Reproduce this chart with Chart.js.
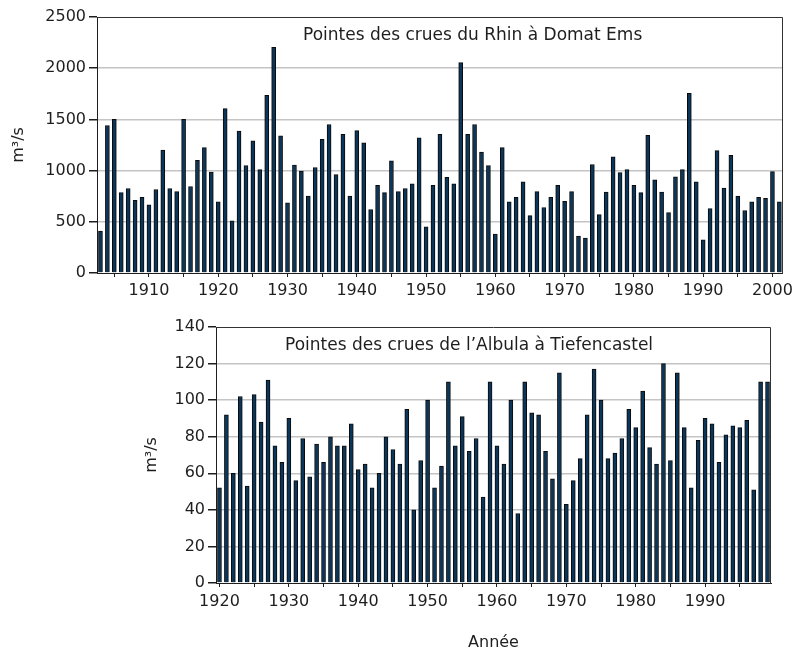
<!DOCTYPE html>
<html>
<head>
<meta charset="utf-8">
<script src="https://cdn.jsdelivr.net/npm/chart.js@4"></script>
<style>
  html, body { margin: 0; padding: 0; background: #fff; }
  #wrap { position: relative; width: 797px; height: 653px; overflow: hidden; }
  .box { position: absolute; left: 0; width: 797px; }
</style>
</head>
<body>
<div id="wrap">
  <div class="box" style="top:0;height:300px;"><canvas id="c1" width="797" height="300"></canvas></div>
  <div class="box" style="top:300px;height:353px;"><canvas id="c2" width="797" height="353"></canvas></div>
</div>
<script>
// ---- Data ----
const rhinStartYear = 1903;
const rhinPeaks = [
  410, 1440, 1500, 785, 825, 710, 740, 665, 815, 1200,
  825, 795, 1500, 845, 1100, 1225, 985, 695, 1605, 510,
  1385, 1050, 1290, 1010, 1735, 2205, 1340, 685, 1055, 995,
  750, 1030, 1305, 1450, 960, 1355, 750, 1390, 1270, 620,
  855, 785, 1095, 795, 825, 870, 1320, 450, 855, 1355,
  935, 870, 2055, 1355, 1450, 1180, 1050, 380, 1225, 695,
  740, 890, 560, 795, 640, 740, 855, 700, 795, 360,
  340, 1060, 570, 790, 1135, 980, 1010, 855, 785, 1345,
  910, 790, 590, 940, 1010, 1755, 890, 325, 630, 1195,
  830, 1150, 750, 610, 695, 740, 730, 990, 695
];
const rhinYears = rhinPeaks.map((_, i) => String(rhinStartYear + i));

const albulaStartYear = 1920;
const albulaPeaks = [
  52, 92, 60, 102, 53, 103, 88, 111, 75, 66,
  90, 56, 79, 58, 76, 66, 80, 75, 75, 87,
  62, 65, 52, 60, 80, 73, 65, 95, 40, 67,
  100, 52, 64, 110, 75, 91, 72, 79, 47, 110,
  75, 65, 100, 38, 110, 93, 92, 72, 57, 115,
  43, 56, 68, 92, 117, 100, 68, 71, 79, 95,
  85, 105, 74, 65, 120, 67, 115, 85, 52, 78,
  90, 87, 66, 81, 86, 85, 89, 51, 110, 110
];
const albulaYears = albulaPeaks.map((_, i) => String(albulaStartYear + i));

const rhinTitle = 'Pointes des crues du Rhin à Domat Ems';
const albulaTitle = 'Pointes des crues de l\u2019Albula à Tiefencastel';
const yTitle = 'm³/s';
const xTitle = 'Année';
const rhinYTicks = [0, 500, 1000, 1500, 2000, 2500];
const albulaYTicks = [0, 20, 40, 60, 80, 100, 120, 140];

// ---- Styles ----
const FONT = 'DejaVu Sans';
const TEXT = '#1e1e1e';
const BAR_FILL = '#0c3659';
const BAR_EDGE = '#0a0a0a';
const GRID = '#c4c4c4';
const AXIS = '#1e1e1e';

// border + in-plot caption plugin
const framePlugin = {
  id: 'frame',
  afterDatasetsDraw(chart, args, opts) {
    const {ctx, chartArea: a} = chart;
    ctx.save();
    ctx.strokeStyle = '#333';
    ctx.lineWidth = 1;
    ctx.beginPath();
    ctx.moveTo(Math.round(a.left) + 0.5, Math.round(a.top) + 0.5);
    ctx.lineTo(Math.round(a.right) - 0.5, Math.round(a.top) + 0.5);
    ctx.lineTo(Math.round(a.right) - 0.5, Math.round(a.bottom) + 0.5);
    ctx.stroke();
    if (opts && opts.text) {
      ctx.fillStyle = TEXT;
      ctx.font = '17px "' + FONT + '"';
      ctx.textBaseline = 'alphabetic';
      ctx.textAlign = 'left';
      ctx.fillText(opts.text, opts.x, opts.y);
    }
    ctx.restore();
  }
};

function makeChart(canvasId, labels, values, cfg) {
  return new Chart(document.getElementById(canvasId), {
    type: 'bar',
    data: {
      labels: labels,
      datasets: [{
        data: values,
        backgroundColor: BAR_FILL,
        borderColor: BAR_EDGE,
        borderWidth: 1,
        barThickness: 4,
        categoryPercentage: 1.0
      }]
    },
    plugins: [framePlugin],
    options: {
      responsive: false,
      animation: false,
      events: [],
      layout: { padding: cfg.padding },
      plugins: {
        legend: { display: false },
        tooltip: { enabled: false },
        frame: { text: cfg.caption, x: cfg.captionX, y: cfg.captionY }
      },
      scales: {
        x: {
          offset: true,
          grid: {
            display: true,
            offset: false,
            drawOnChartArea: false,
            drawTicks: true,
            tickLength: 4,
            tickColor: AXIS
          },
          border: { display: true, color: AXIS, width: 1 },
          ticks: {
            autoSkip: false,
            maxRotation: 0,
            minRotation: 0,
            padding: cfg.xPad,
            color: TEXT,
            font: { family: FONT, size: 16 },
            callback: function(val, idx) {
              const y = Number(this.getLabelForValue(val));
              if (y % 10 === 0 && cfg.showLabel(y)) return String(y);
              if (y % 5 === 0) return '';
              return null;
            }
          },
          title: cfg.xTitle ? {
            display: true, text: cfg.xTitle, color: TEXT,
            font: { family: FONT, size: 16 },
            padding: { top: 0, bottom: 1 }
          } : { display: false },
          afterFit: (s) => { s.height = cfg.xHeight; }
        },
        y: {
          min: 0,
          max: cfg.yMax,
          afterBuildTicks: (s) => { s.ticks = cfg.yTicks.map(v => ({ value: v })); },
          grid: {
            color: (c) => (c.tick && (c.tick.value === 0 || c.tick.value === cfg.yMax)) ? 'rgba(0,0,0,0)' : GRID,
            lineWidth: 1.5,
            drawTicks: true,
            tickLength: 8,
            tickColor: AXIS
          },
          border: { display: true, color: AXIS, width: 1 },
          ticks: {
            padding: 3,
            color: TEXT,
            font: { family: FONT, size: 16 },
            callback: (v) => String(v)
          },
          title: {
            display: true, text: yTitle, color: TEXT,
            font: { family: FONT, size: 16 },
            padding: { top: cfg.yTitlePad, bottom: 0 }
          },
          afterFit: (s) => { s.width = cfg.yWidth; }
        }
      }
    }
  });
}

makeChart('c1', rhinYears, rhinPeaks, {
  padding: { top: 17, right: 12, bottom: 0, left: 0 },
  caption: rhinTitle, captionX: 303, captionY: 40,
  xPad: 4, xHeight: 27, yWidth: 97, yTitlePad: 9, yMax: 2500, yTicks: rhinYTicks,
  showLabel: (y) => y >= 1910,
  xTitle: null
});

makeChart('c2', albulaYears, albulaPeaks, {
  padding: { top: 27, right: 26, bottom: 0, left: 0 },
  caption: albulaTitle, captionX: 285, captionY: 50,
  xPad: 5, xHeight: 70, yWidth: 216, yTitlePad: 142, yMax: 140, yTicks: albulaYTicks,
  showLabel: (y) => true,
  xTitle: xTitle
});
</script>
</body>
</html>
